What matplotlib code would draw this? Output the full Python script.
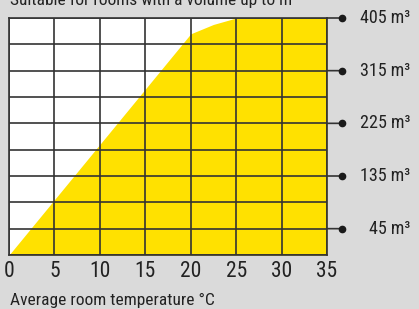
import matplotlib
matplotlib.use("Agg")
import matplotlib.pyplot as plt
import matplotlib.transforms as mtransforms
from matplotlib import font_manager as fm

names = {f.name for f in fm.fontManager.ttflist}
font = next((n for n in ["Liberation Sans Narrow", "Roboto Condensed", "Roboto", "DejaVu Sans"] if n in names), "DejaVu Sans")
plt.rcParams["font.family"] = [font, "DejaVu Sans"]

# Data
temp = [0, 20, 22.5, 25, 35]
volume = [0, 378, 394, 405, 405]
x_ticks = [0, 5, 10, 15, 20, 25, 30, 35]
y_grid = [0, 45, 90, 135, 180, 225, 270, 315, 360, 405]
right_labels = [45, 135, 225, 315, 405]

bg = "#dadada"
yellow = "#ffe100"
line_c = "#333333"
text_c = "#222222"

fig = plt.figure(figsize=(4.19, 3.09), dpi=100, facecolor=bg)
ax = fig.add_axes([9/419, 1-255/309, (327-9)/419, (255-18)/309])
ax.set_facecolor("white")
ax.fill_between(temp, 0, volume, color=yellow, linewidth=0, zorder=1)
ax.set_xlim(0, 35)
ax.set_ylim(0, 405)
ax.set_xticks(x_ticks)
ax.set_yticks(y_grid)
ax.set_yticklabels([])
ax.grid(True, color=line_c, linewidth=1.2, zorder=2)
ax.set_axisbelow(False)
for s in ax.spines.values():
    s.set_color(line_c)
    s.set_linewidth(1.2)
ax.tick_params(axis="both", length=0)
ax.tick_params(axis="x", labelsize=15.5, colors=text_c, pad=4)

tr = ax.transData + mtransforms.ScaledTranslation(15/100, 0, fig.dpi_scale_trans)
for v in right_labels:
    ax.annotate("", xy=(35, v), xytext=(10.8, 0), textcoords="offset points",
                arrowprops=dict(arrowstyle="-", color=line_c, lw=1.2, shrinkA=0, shrinkB=0),
                annotation_clip=False)
    ax.plot([35], [v], marker="o", markersize=4.5, color="#1a1a1a", transform=tr,
            clip_on=False, zorder=5)
    ax.annotate(f"{v} m³", xy=(35, v), xytext=(59.8, 0), textcoords="offset points",
                ha="right", va="center", fontsize=13, color=text_c, annotation_clip=False)

fig.text(10/419, 1-5/309, "Suitable for rooms with a volume up to m³", fontsize=12.5,
         color=text_c, ha="left", va="baseline")
fig.text(10/419, 1-305/309, "Average room temperature °C", fontsize=12.5,
         color=text_c, ha="left", va="baseline")

fig.savefig("out.png", dpi=100, facecolor=bg)
